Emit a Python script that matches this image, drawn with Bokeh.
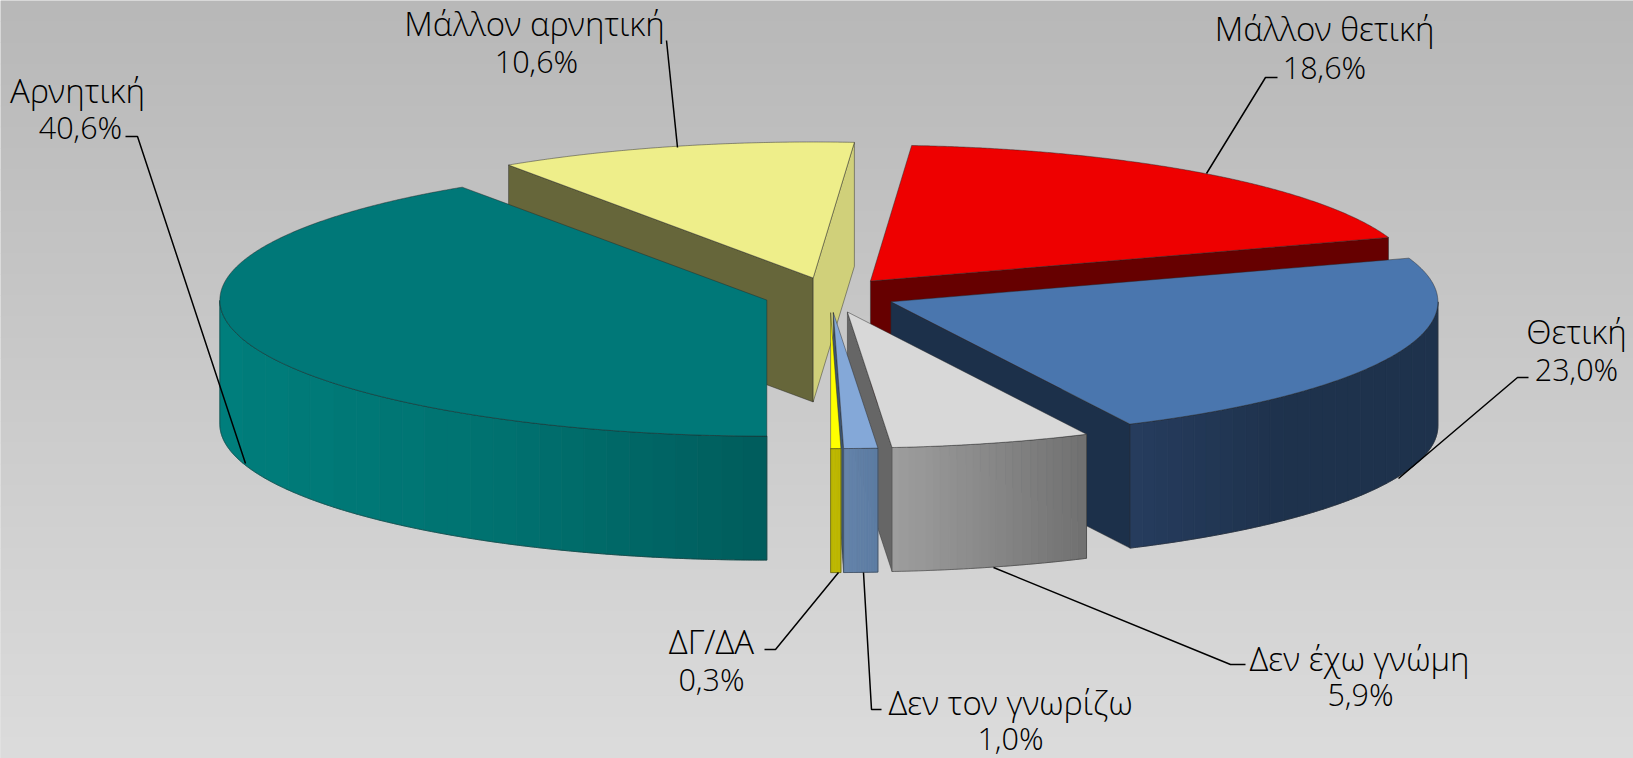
import math
from bokeh.plotting import figure
from bokeh.models import Range1d
from bokeh.core.properties import value
from bokeh.embed import file_html
from bokeh.resources import INLINE

# ---- data
categories = ["Αρνητική", "Μάλλον αρνητική", "Μάλλον θετική", "Θετική",
              "Δεν έχω γνώμη", "Δεν τον γνωρίζω", "ΔΓ/ΔΑ"]
shares = [40.6, 10.6, 18.6, 23.0, 5.9, 1.0, 0.3]
share_labels = ["40,6%", "10,6%", "18,6%", "23,0%", "5,9%", "1,0%", "0,3%"]

# ---- styles
top_colors = ["#007878", "#eeee8a", "#ee0000", "#4a76ae", "#d8d8d8", "#84a8d8", "#ffff00"]
cut_start_colors = ["#005f5f", "#66663a", "#660000", "#1c304a", "#666666", "#5f7fa5", "#bdb700"]
cut_end_colors = ["#005f5f", "#d0d07a", "#660000", "#1c304a", "#666666", "#3c5470", "#bdb700"]
wall_left = ["#007e7c", "#66663a", "#660000", "#263c5e", "#9e9e9e", "#6684aa", "#bdb700"]
wall_mid = ["#007270", "#66663a", "#660000", "#1e324c", "#888888", "#607fa6", "#bdb700"]
wall_right = ["#005c5c", "#66663a", "#660000", "#1e324c", "#707070", "#5c7ca2", "#bdb700"]
paint_order = [1, 2, 0, 3, 4, 5, 6]
BANDS = 24

# ---- geometry of the projected pie (page pixels)
CX, CY = 829.5, 294.5
RX, RY = 547.0, 136.0
EX, EY = 66.0, 17.6
DEPTH = 124.0
EDGE = dict(line_color="#262626", line_alpha=0.45, line_width=1)
FONT = value("Open Sans Light")
TEXT_COLOR = "#000000"
NAME_SIZE = "33px"
PCT_SIZE = "30.5px"

# label placement
name_xy = [(77, 90), (534, 23), (1324, 28), (1576, 331), (1359, 658), (1010, 702), (711, 641)]
pct_xy = [(80, 126), (536, 60), (1324, 66), (1576, 368), (1360, 693), (1010, 737), (711, 678)]
leaders = [
    ([125, 137, 245], [136, 136, 463]),
    ([666, 677], [40, 147]),
    ([1277, 1265, 1206], [77, 77, 173]),
    ([1528, 1517, 1398], [377, 377, 478]),
    ([1245, 1230, 993], [664, 664, 567]),
    ([881, 871, 863], [709, 709, 572]),
    ([764, 775, 838], [649, 649, 572]),
]

p = figure(width=1633, height=758, output_backend="svg", toolbar_location=None,
           x_range=Range1d(0, 1633), y_range=Range1d(758, 0),
           min_border=0, outline_line_color=None, background_fill_color="#c8c8c8",
           border_fill_color="#c8c8c8")
p.axis.visible = False
p.grid.visible = False

# background: one band per grey level
G0, G1 = 184, 219
n = G1 - G0 + 1
tops = [758 * i / n for i in range(n)]
bots = [758 * (i + 1) / n + 0.5 for i in range(n)]
cols = ["#%02x%02x%02x" % (G0 + i, G0 + i, G0 + i) for i in range(n)]
p.quad(left=0, right=1633, top=tops, bottom=bots, fill_color=cols, line_color=None)


def hex2rgb(h):
    return [int(h[i:i + 2], 16) for i in (1, 3, 5)]


def mix(a, b, t):
    ra, rb = hex2rgb(a), hex2rgb(b)
    return "#%02x%02x%02x" % tuple(round(x + (y - x) * t) for x, y in zip(ra, rb))


def shade(i, t):
    if t < 0.5:
        return mix(wall_left[i], wall_mid[i], t * 2)
    return mix(wall_mid[i], wall_right[i], t * 2 - 1)


total = sum(shares)
starts, acc = [], 0.0
for s in shares:
    starts.append(acc)
    acc += s

for i in paint_order:
    a0 = 180 + starts[i] / total * 360
    a1 = a0 + shares[i] / total * 360
    mid = math.radians((a0 + a1) / 2)
    ax = CX + EX * math.sin(mid)
    ay = CY - EY * math.cos(mid)

    def rim(deg, z=0.0):
        r = math.radians(deg)
        return ax + RX * math.sin(r), ay - RY * math.cos(r) + z

    steps = max(4, int((a1 - a0) / 0.25))
    arc = [a0 + (a1 - a0) * k / steps for k in range(steps + 1)]

    # cut faces
    for deg, col, visible in ((a0, cut_start_colors[i], math.sin(math.radians(a0)) < -1e-6),
                              (a1, cut_end_colors[i], math.sin(math.radians(a1)) > 1e-6)):
        if visible:
            x1, y1 = rim(deg)
            p.patch([ax, x1, x1, ax], [ay, y1, y1 + DEPTH, ay + DEPTH],
                    fill_color=col, **EDGE)

    # outer wall (front half only), painted in vertical bands
    wall = [d for d in arc if 90 <= (d % 360) <= 270]
    if len(wall) >= 2:
        xs_all = [rim(d)[0] for d in wall]
        xl, xr = min(xs_all), max(xs_all)
        groups = {}
        for d0, d1 in zip(wall[:-1], wall[1:]):
            t = ((rim(d0)[0] + rim(d1)[0]) / 2 - xl) / max(xr - xl, 1e-6)
            groups.setdefault(int(t * BANDS * 0.9999), []).append((d0, d1))
        for b in sorted(groups):
            run = [groups[b][0][0]] + [q[1] for q in groups[b]]
            col = shade(i, (b + 0.5) / BANDS)
            xs = [rim(d)[0] for d in run] + [rim(d)[0] for d in reversed(run)]
            ys = [rim(d)[1] for d in run] + [rim(d, DEPTH)[1] for d in reversed(run)]
            p.patch(xs, ys, fill_color=col, line_color=col, line_width=0.8)
        ox = [rim(d)[0] for d in wall] + [rim(d)[0] for d in reversed(wall)]
        oy = [rim(d)[1] for d in wall] + [rim(d, DEPTH)[1] for d in reversed(wall)]
        p.patch(ox, oy, fill_alpha=0, **EDGE)

    # top face
    pts = [rim(d) for d in arc]
    p.patch([ax] + [q[0] for q in pts], [ay] + [q[1] for q in pts],
            fill_color=top_colors[i], **EDGE)

# leader lines
for lx, ly in leaders:
    p.line(lx, ly, line_color="#000000", line_width=1.5)

# labels
p.text(x=[q[0] for q in name_xy], y=[q[1] for q in name_xy], text=categories,
       text_font=FONT, text_font_size=NAME_SIZE, text_color=TEXT_COLOR,
       text_align="center", text_baseline="middle")
p.text(x=[q[0] for q in pct_xy], y=[q[1] for q in pct_xy], text=share_labels,
       text_font=FONT, text_font_size=PCT_SIZE, text_color=TEXT_COLOR,
       text_align="center", text_baseline="middle")

open("out.html", "w").write(file_html(p, INLINE))
